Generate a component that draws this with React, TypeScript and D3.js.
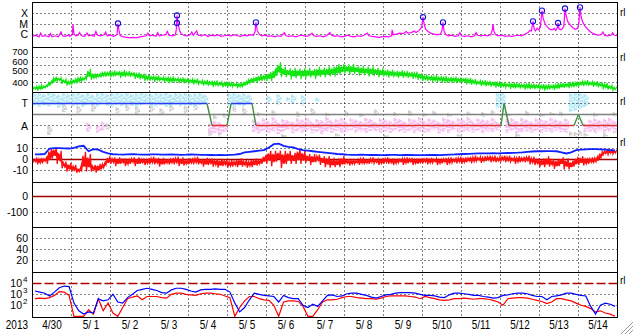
import React from "react";
import * as d3 from "d3";

// ---------- categories / tick labels ----------
const dayLabels = ["4/30", "5/ 1", "5/ 2", "5/ 3", "5/ 4", "5/ 5", "5/ 6", "5/ 7", "5/ 8", "5/ 9", "5/10", "5/11", "5/12", "5/13", "5/14"];
const yearLabel = "2013";
const xrayTicks = [{ t: "X", e: -4 }, { t: "M", e: -5 }, { t: "C", e: -6 }];
const speedTicks = [400, 500, 600, 700];
const sectorTicks = [{ t: "T", v: 270 }, { t: "A", v: 90 }];
const imfTicks = [10, 0, -10];
const dstTicks = [0, -100];
const p6Ticks = [20, 40, 60];
const fluxTicks = [4, 3, 2];

// ---------- X-ray flux: [hour since 4/30 00UT, log10 W/m2] ----------
const xrayPts: [number, number][] = [
  [0, -6.15], [2, -6.05], [4, -6.2], [5, -5.85], [6, -6.15], [8, -6.1], [10, -6.2], [11, -5.9], [12, -6.2], [14, -6.1],
  [16, -6.2], [17.5, -5.75], [18.5, -6.1], [20, -6.15], [22, -6.05], [23, -6.15], [24.5, -6.0], [24.9, -5.05], [25.5, -5.9],
  [26.5, -6.1], [28, -6.05], [29, -5.8], [30, -6.1], [32, -6.15], [33.5, -5.85], [34.5, -6.1], [36, -6.05], [38, -6.15],
  [39, -5.7], [40, -6.05], [42, -6.1], [44, -6.0], [45, -5.75], [46, -6.1], [48, -6.05], [50, -6.15], [52, -6.0],
  [52.6, -4.95], [53.3, -5.7], [54, -6.1], [56, -6.2], [58, -6.25], [60, -6.3], [62, -6.25], [64, -6.3], [66, -6.2],
  [68, -6.15], [70, -6.1], [71, -5.85], [72, -6.1], [74, -6.05], [76, -6.15], [77, -5.8], [78, -6.1], [80, -6.05],
  [82, -6.0], [83, -5.7], [84, -6.05], [86, -6.1], [88, -6.0], [88.5, -5.5], [88.9, -4.2], [89.6, -5.0], [90.5, -5.6],
  [91.5, -5.9], [93, -6.05], [95, -6.1], [97, -6.0], [98, -5.75], [99, -6.05], [101, -5.65], [102, -6.05], [104, -6.1],
  [106, -6.0], [108, -6.15], [110, -6.05], [112, -6.1], [114, -6.0], [116, -6.15], [118, -6.1], [120, -6.05], [122, -6.1],
  [124, -6.0], [126, -6.1], [128, -6.15], [130, -6.05], [132, -6.1], [134, -6.0], [136, -6.05], [137, -5.7], [137.5, -4.85],
  [138.3, -5.6], [139.5, -5.95], [141, -6.1], [143, -6.05], [145, -6.15], [147, -6.1], [149, -6.2], [151, -6.1], [153, -6.15],
  [155, -5.8], [156, -6.1], [158, -6.15], [160, -6.1], [162, -6.2], [164, -6.1], [166, -6.05], [168, -6.15], [170, -6.1],
  [172, -5.85], [173, -6.1], [175, -6.15], [177, -6.1], [179, -6.2], [181, -6.1], [183, -5.8], [184, -6.05], [186, -6.15],
  [188, -6.1], [190, -6.2], [192, -6.15], [194, -6.05], [196, -6.15], [198, -6.2], [200, -6.1], [202, -6.15], [204, -6.05],
  [206, -5.85], [207, -6.1], [209, -6.15], [211, -6.2], [213, -6.25], [215, -6.2], [217, -6.15], [219, -6.2], [221, -6.1],
  [221.3, -5.55], [222, -6.0], [224, -5.95], [226, -5.85], [228, -5.9], [230, -5.7], [231, -5.85], [233, -5.8], [235, -5.65],
  [236, -5.8], [238, -5.6], [239.5, -5.3], [240.3, -4.35], [241, -5.0], [242, -5.5], [243.5, -5.7], [245, -5.85], [247, -5.95],
  [249, -6.0], [251, -5.95], [252, -5.6], [252.6, -4.85], [253.3, -5.7], [254.5, -6.0], [256, -6.1], [258, -6.05], [260, -6.15],
  [262, -6.1], [263, -5.8], [264, -6.1], [266, -6.15], [268, -6.1], [270, -6.2], [272, -6.1], [273, -5.8], [274, -6.05],
  [276, -6.1], [278, -6.05], [280, -6.1], [282, -6.0], [283, -5.5], [283.4, -5.0], [284, -5.7], [285, -6.0], [287, -6.1],
  [289, -6.05], [291, -6.15], [293, -6.1], [295, -6.15], [297, -6.1], [299, -6.05], [301, -6.1], [303, -5.95], [305, -5.8],
  [306, -5.6], [307, -5.65], [308, -4.75], [308.8, -5.5], [309.5, -5.65], [310.5, -5.4], [311.5, -5.55], [312.5, -5.3],
  [313.5, -3.75], [314.3, -4.5], [315.5, -5.0], [317, -5.3], [318.5, -5.5], [320, -5.55], [321, -5.4], [322, -5.6], [323, -5.35],
  [323.4, -4.9], [324, -5.45], [325, -5.55], [326, -5.45], [327, -5.2], [327.7, -3.55], [328.5, -4.3], [329.5, -4.8], [331, -5.1],
  [332.5, -5.35], [334, -5.5], [335.5, -5.4], [336.3, -4.8], [336.9, -3.45], [337.6, -4.3], [338.5, -4.8], [340, -5.2],
  [341.5, -5.45], [343, -5.7], [344.5, -5.85], [346, -5.95], [348, -6.05], [350, -6.0], [351, -5.75], [352, -6.05], [354, -6.1],
  [356, -6.05], [357, -5.8], [358, -6.05], [360, -6.1],
];
const flareHours = [52.6, 88.9, 88.9, 137.5, 240.3, 252.6, 308.0, 313.5, 323.4, 327.7, 336.9];
const flareLogs = [-4.95, -4.2, -4.9, -4.85, -4.35, -4.85, -4.75, -3.75, -4.9, -3.55, -3.45];

// ---------- Solar wind speed (km/s), 3-hour bins: level and scatter ----------
const speedMid = [
  330, 335, 345, 380, 430, 435, 410, 395,
  410, 430, 440, 500, 470, 480, 495, 500,
  500, 505, 500, 500, 495, 480, 470, 455,
  450, 445, 440, 435, 430, 430, 425, 420,
  415, 410, 400, 395, 390, 385, 380, 375,
  375, 370, 365, 380, 410, 430, 445, 455,
  470, 490, 560, 525, 515, 505, 510, 505,
  510, 510, 515, 520, 525, 530, 545, 555,
  560, 555, 550, 540, 535, 530, 525, 515,
  510, 505, 500, 500, 495, 490, 485, 470,
  455, 450, 445, 440, 435, 430, 430, 425,
  425, 415, 405, 395, 390, 385, 380, 375,
  370, 365, 360, 360, 355, 355, 350, 350,
  345, 340, 345, 350, 360, 365, 370, 375,
  385, 390, 385, 380, 370, 355, 340, 325,
];
const speedSpread = [
  25, 35, 21, 31, 39, 22, 28, 34,
  31, 42, 25, 63, 39, 28, 36, 34,
  42, 31, 49, 36, 28, 39, 34, 42,
  31, 39, 28, 35, 42, 25, 34, 31,
  28, 36, 25, 34, 31, 39, 28, 35,
  34, 25, 36, 31, 42, 35, 49, 39,
  56, 77, 84, 63, 53, 70, 59, 67,
  63, 53, 73, 56, 67, 59, 77, 63,
  56, 67, 49, 59, 53, 63, 50, 56,
  42, 49, 39, 48, 42, 36, 45, 39,
  39, 34, 45, 36, 42, 35, 39, 34,
  31, 39, 35, 28, 36, 34, 31, 39,
  35, 28, 39, 34, 31, 42, 35, 31,
  34, 39, 31, 42, 35, 31, 39, 36,
  31, 36, 28, 34, 31, 39, 28, 25,
];

// ---------- IMF sector (phi, deg) ----------
const sectorLine: [number, number][] = [
  [0, 270], [107.4, 270], [110.5, 90], [119.7, 90], [122.2, 270], [135.1, 270], [137.5, 90],
  [288.3, 90], [290.2, 270], [293.2, 90], [333.2, 90], [336.0, 180], [338.8, 90], [360, 90],
];
// [bin, phiLo, phiHi]
const towardStreaks: [number, number, number][] = [
  [0, 250, 350], [1, 240, 355], [2, 255, 345], [3, 245, 358], [4, 260, 350], [5, 235, 340], [6, 250, 355], [7, 265, 345],
  [8, 245, 350], [9, 255, 358], [10, 240, 345], [11, 260, 355], [12, 250, 340], [13, 245, 350], [14, 265, 355], [15, 250, 345],
  [16, 240, 352], [17, 255, 358], [18, 245, 348], [19, 260, 355], [20, 250, 345], [21, 240, 350], [22, 255, 358], [23, 265, 350],
  [24, 250, 345], [25, 245, 355], [26, 255, 350], [27, 240, 358], [28, 250, 345], [29, 260, 352], [30, 245, 350], [31, 255, 355],
  [32, 250, 345], [33, 240, 350], [34, 255, 355], [35, 260, 340],
  [40, 250, 350], [41, 240, 355], [42, 255, 345], [43, 245, 350], [44, 260, 340],
  [48, 275, 330], [50, 260, 345], [52, 285, 320], [53, 265, 340], [55, 250, 335], [58, 280, 315],
  [95, 230, 355], [96, 215, 358], [110, 200, 350], [111, 210, 358], [112, 225, 355], [113, 240, 345],
];
const awayStreaks: [number, number, number][] = [
  [11, 45, 115], [13, 35, 95], [14, 55, 125],
  [36, 25, 110], [37, 35, 130], [38, 20, 120], [39, 40, 105],
  [45, 40, 140], [46, 30, 125], [47, 50, 150], [48, 35, 130], [49, 45, 160], [50, 25, 120], [51, 40, 145], [52, 55, 135],
  [53, 30, 125], [54, 45, 150], [55, 35, 140], [56, 50, 155], [57, 30, 120], [58, 40, 145], [59, 25, 135], [60, 45, 160],
  [61, 35, 130], [62, 50, 145], [63, 30, 155], [64, 40, 125], [65, 55, 150], [66, 35, 140], [67, 45, 130], [68, 30, 155],
  [69, 50, 145], [70, 40, 120], [71, 35, 150], [72, 45, 140], [73, 30, 130], [74, 55, 155], [75, 40, 145], [76, 35, 125],
  [77, 50, 150], [78, 30, 140], [79, 45, 160], [80, 35, 130], [81, 40, 150], [82, 55, 140], [83, 30, 125], [84, 45, 155],
  [85, 35, 145], [86, 50, 130], [87, 30, 150], [88, 40, 140], [89, 45, 160], [90, 35, 125], [91, 50, 150], [92, 30, 140],
  [93, 45, 135], [94, 40, 155], [95, 55, 120], [97, 35, 145], [98, 50, 150], [99, 30, 130], [100, 40, 155], [101, 45, 140],
  [102, 35, 125], [103, 50, 150], [104, 30, 145], [105, 45, 135], [106, 35, 155], [107, 50, 140], [108, 40, 130], [109, 35, 150],
  [113, 40, 110], [114, 45, 140], [115, 30, 150], [116, 50, 135], [117, 35, 145], [118, 45, 155], [119, 30, 130],
];
const grayStreaks: [number, number, number][] = [
  [3, 15, 90], [6, 200, 265], [9, 190, 250], [12, 205, 270], [15, 60, 110], [17, 195, 240], [19, 210, 260], [21, 185, 245],
  [24, 200, 255], [26, 175, 230], [28, 205, 260], [31, 190, 250], [33, 215, 265],
  [36, 10, 60], [37, 140, 175], [38, 5, 45], [39, 150, 190], [41, 200, 240], [43, 185, 235],
  [46, 165, 200], [49, 170, 215], [51, 0, 25], [54, 160, 205], [57, 175, 230], [60, 165, 195], [62, 5, 30], [64, 170, 210],
  [67, 160, 190], [70, 175, 220], [72, 0, 20], [74, 165, 200], [77, 170, 215], [80, 160, 195], [82, 175, 210], [85, 165, 190],
  [87, 5, 25], [89, 170, 205], [92, 160, 200], [94, 175, 215], [97, 165, 195], [99, 0, 30], [101, 170, 210], [104, 160, 190],
  [106, 175, 200], [108, 165, 205], [110, 5, 45], [111, 0, 40], [112, 10, 50], [113, 5, 35], [115, 160, 195], [117, 0, 30],
  [119, 165, 200],
];

// ---------- IMF Bt / Bz (nT), 3-hour bins ----------
const btVals = [
  4.7, 4.8, 5.0, 10.0, 10.3, 10.4, 10.2, 10.0,
  10.5, 12.0, 12.5, 7.5, 9.5, 9.0, 7.0, 5.5,
  4.8, 4.6, 4.5, 4.7, 4.9, 4.6, 4.5, 4.4,
  4.6, 4.7, 4.5, 4.4, 4.6, 4.5, 4.3, 4.4,
  4.6, 4.5, 4.3, 4.2, 4.1, 4.0, 4.2, 4.0,
  4.3, 4.5, 5.0, 6.5, 7.0, 7.5, 8.0, 8.5,
  11.0, 14.0, 14.5, 12.5, 11.5, 11.0, 9.5, 8.5,
  8.0, 7.5, 7.0, 6.5, 6.0, 5.5, 5.0, 4.8,
  4.5, 4.3, 4.2, 4.4, 4.3, 4.1, 4.2, 4.0,
  4.1, 4.3, 4.2, 4.0, 4.1, 4.2, 4.0, 3.9,
  4.0, 4.1, 4.2, 4.0, 4.3, 4.5, 4.6, 4.8,
  5.0, 5.2, 5.4, 5.5, 5.5, 5.6, 5.7, 5.6,
  5.8, 5.9, 6.0, 6.2, 6.5, 7.0, 7.3, 7.5,
  7.5, 7.7, 7.7, 7.5, 6.5, 5.5, 6.5, 8.5,
  9.0, 9.3, 9.5, 9.5, 9.3, 9.0, 8.5, 8.0,
];
const bzMid = [
  -1, -1.5, -0.5, 3, 6, 2, -5, -7,
  -8, -10, -2, -3, -8, -8, -6, -1,
  -1, -2, -1.5, -2.5, -1, -2, -1.5, -2,
  -1, -1.5, -2.5, -2, -1.5, -1, -2, -2.5,
  -1.5, -1, -2, -2.5, -2, -3, -3.5, -3,
  -4, -3.5, -3, -3.5, -4, -3, -2.5, 0,
  2, 1, 3, 0, 2, 1, 3, 2,
  1, 0, 1, -1, -2, -3, -3, -2,
  -2, -2.5, -2, -1.5, -2, -1, -1.5, -2,
  -1, -1.5, -2, -1, -1.5, -1, -2, -1.5,
  -1, -1.5, -1, -2, -1, -1.5, -1, -0.5,
  -1, 0, 0, 0.5, 0, 1, 0.5, 0,
  1, 0.5, 0, -0.5, 0, 0.5, -1, -2,
  -3, -2, -3, -4, -2, -4, -5, -2,
  -1, -2, -1, -0.5, 3, 6.5, 7, 7,
];
const bzSpread = [
  2, 3, 2, 7, 5, 6, 3, 4,
  3, 2, 9, 8, 3, 4, 3, 4,
  3, 4, 2.5, 3.5, 3, 4, 2.5, 3,
  3.5, 3, 4, 2.5, 3, 3.5, 4, 3,
  3, 3.5, 2.5, 4, 3, 3.5, 4, 3,
  3.5, 3, 4, 3, 3.5, 4, 3, 4,
  6, 7, 5, 8, 6, 5, 7, 6,
  4, 5, 3.5, 4, 5, 4.5, 4, 5,
  2.5, 3, 2, 3.5, 2.5, 3, 2, 3,
  3, 2.5, 3, 2, 3.5, 2.5, 3, 2.5,
  2.5, 3, 2, 3, 2.5, 3.5, 2, 3,
  3, 2.5, 3.5, 2, 3, 2.5, 3, 2.5,
  2.5, 3, 2, 3.5, 2.5, 3, 3.5, 3,
  4, 5, 3.5, 4.5, 4, 5, 4, 4.5,
  4, 3.5, 3, 3, 4, 2, 2.5, 2,
];

// ---------- Particle flux (log10), 3-hour bins ----------
const fluxBlue = [
  3.3, 3.2, 3.1, 2.85, 3.2, 3.6, 3.75, 3.7,
  2.2, 1.5, 1.2, 1.4, 1.3, 2.6, 2.4, 2.5,
  3.0, 2.3, 2.2, 2.7, 3.0, 3.35, 3.45, 3.55,
  3.45, 3.35, 3.15, 3.1, 3.4, 3.55, 3.55, 3.45,
  3.3, 3.2, 3.4, 3.45, 3.45, 3.5, 3.45, 3.45,
  3.2, 2.2, 1.4, 1.8, 2.5, 3.1, 3.0, 2.9,
  2.85, 2.8, 2.3, 2.9, 2.7, 2.6, 2.6, 2.0,
  1.8, 2.1, 1.9, 2.4, 2.9, 2.95, 2.8, 2.85,
  3.05, 3.1, 3.1, 3.0, 2.9, 2.75, 2.65, 2.8,
  2.95, 3.0, 3.1, 3.15, 3.15, 3.15, 3.1, 3.0,
  2.9, 2.9, 2.85, 2.75, 2.7, 2.95, 3.1, 3.1,
  3.05, 3.0, 2.9, 2.9, 2.8, 2.75, 2.65, 2.7,
  2.9, 2.95, 3.05, 3.1, 3.1, 3.05, 2.9, 2.8,
  2.8, 2.5, 2.8, 2.85, 2.95, 3.1, 3.1, 3.0,
  2.9, 2.85, 1.9, 1.2, 2.0, 2.2, 2.1, 1.9,
];
const fluxRed = [
  2.6, 2.65, 2.6, 2.7, 2.9, 3.25, 3.2, 2.9,
  0.5, 0.5, 0.5, 1.6, 1.2, 2.6, 1.5, 2.2,
  1.3, 0.5, 1.8, 2.6, 2.75, 2.85, 2.5, 2.8,
  2.8, 2.8, 2.7, 2.65, 3.0, 3.1, 3.1, 3.0,
  2.95, 2.9, 3.05, 3.1, 3.1, 3.05, 3.0, 2.85,
  2.7, 0.5, 1.8, 2.4, 2.8, 2.8, 2.6, 2.5,
  2.45, 2.0, 0.8, 2.3, 2.4, 2.4, 2.35, 1.9,
  0.5, 0.9, 1.6, 2.3, 2.5, 2.5, 2.55, 2.7,
  2.8, 2.8, 2.7, 2.65, 2.6, 2.6, 2.55, 2.65,
  2.8, 2.85, 2.85, 2.85, 2.85, 2.8, 2.75, 2.6,
  2.8, 2.7, 2.6, 2.5, 2.45, 2.5, 2.6, 2.6,
  2.65, 2.6, 2.55, 2.6, 2.6, 2.55, 2.45, 2.3,
  2.0, 2.6, 2.65, 2.7, 2.7, 2.65, 2.55, 2.45,
  2.35, 2.15, 2.3, 2.6, 2.6, 2.5, 2.4, 2.2,
  2.0, 1.9, 1.7, 1.4, 1.5, 1.3, 1.2, 0.9,
];
const fluxThreshold = 4;

// ---------- layout ----------
const W = 633;
const H = 334;
const L = 32.5;
const R = 617.5;
const BIN = 3;
const tops = [2.5, 47.5, 92.5, 137.5, 182.5, 227.5, 272.5];
const bottom = 317.5;
const glyphY = [12, 57, 101, 142, null, null, 280];
const speedLabelShift = [0, -3, -4.3, -5.8];
const FONT = "'Liberation Sans', Arial, sans-serif";

const x = d3.scaleLinear().domain([0, 360]).range([L, R]);
const y1 = d3.scaleLog().domain([1e-7, 1e-3]).range([45.4, 2.6]);
const y2 = d3.scaleLinear().domain([284, 824]).range([92, 47]);
const y3 = d3.scaleLinear().domain([0, 360]).range([137, 92]);
const y4 = d3.scaleLinear().domain([-20.5, 20.5]).range([182, 137]);
const y5 = d3.scaleLinear().domain([-194, 94]).range([227, 182]);
const y6 = d3.scaleLinear().domain([0, 80]).range([271.3, 227.3]);
const y7 = d3.scaleLog().domain([10, 1e5]).range([316.3, 272.3]).clamp(true);

const snap = (v: number) => Math.floor(v) + 0.5;

// scatter drawn as alternating low/high excursions of each bin
function zigzag(mid: number[], spread: number[]): [number, number][] {
  const pts: [number, number][] = [];
  mid.forEach((m, i) => {
    const s = spread[i];
    pts.push([i * BIN + 0.2, m - s]);
    pts.push([i * BIN + 1.0, m + s * 0.6]);
    pts.push([i * BIN + 1.8, m - s * 0.5]);
    pts.push([i * BIN + 2.6, m + s]);
  });
  return pts;
}
type Band = { t: number; lo: number; hi: number };
function band(mid: number[], spread: number[], k: number): Band[] {
  return mid.map((m, i) => ({ t: i * BIN + BIN / 2, lo: m - spread[i] * k, hi: m + spread[i] * k }));
}

export default function App() {
  const line = (ys: (v: number) => number) =>
    d3.line<[number, number]>().x((d) => x(d[0])).y((d) => ys(d[1]));
  const area = (ys: (v: number) => number) =>
    d3.area<Band>().x((d) => x(d.t)).y0((d) => ys(d.lo)).y1((d) => ys(d.hi)).curve(d3.curveMonotoneX);

  const xrayPath = line((v) => y1(Math.pow(10, v)))(xrayPts) || "";
  const speedPath = line(y2)(zigzag(speedMid, speedSpread)) || "";
  const speedArea = area(y2)(band(speedMid, speedSpread, 0.45)) || "";
  const btPath = line(y4)(btVals.map((v, i) => [i * BIN + BIN / 2, v] as [number, number])) || "";
  const bzPath = line(y4)(zigzag(bzMid, bzSpread)) || "";
  const bzArea = area(y4)(band(bzMid, bzSpread, 0.45)) || "";
  const fluxLine = (arr: number[]) =>
    line((v) => y7(Math.pow(10, v)))(arr.map((v, i) => [i * BIN + BIN / 2, v] as [number, number])) || "";

  const dayTicks = d3.range(0, 361, 24);
  const dotted = { stroke: "#000", strokeWidth: 1, strokeDasharray: "1,3" };

  const sectorSegs = sectorLine.slice(1).map((p, i) => {
    const a = sectorLine[i];
    const col = a[1] === 270 && p[1] === 270 ? "#2a3cf0" : a[1] === 90 && p[1] === 90 ? "#e23030" : "#3f8f3f";
    return { a, b: p, col };
  });

  const streaks = (arr: [number, number, number][], color: string, key: string) =>
    arr.map(([b, lo, hi], i) => {
      const cx = x(b * BIN + BIN / 2);
      return (
        <g key={key + i}>
          <line x1={cx - 1.4} x2={cx - 1.4} y1={y3(hi)} y2={y3(lo)} stroke={color} strokeWidth={1.8} strokeDasharray="4,1" />
          <line x1={cx + 0.4} x2={cx + 0.4} y1={y3(hi) + 1} y2={y3(lo)} stroke={color} strokeWidth={1.8} strokeDasharray="2,1" />
          <line x1={cx + 2.0} x2={cx + 2.0} y1={y3(hi) + 3} y2={y3(lo) - 2} stroke={color} strokeWidth={1.4} strokeDasharray="3,1.5" />
        </g>
      );
    });

  const leftLabel = (txt: string, yy: number, key: string, fs = 10.5) => (
    <text key={key} x={28} y={yy} dy="0.36em" textAnchor="end" fontSize={fs} fontFamily={FONT} fill="#000">
      {txt}
    </text>
  );

  return (
    <div style={{ position: "fixed", left: 0, top: 0, width: W, height: H, background: "#fff" }}>
      <svg width={W} height={H} viewBox={`0 0 ${W} ${H}`} style={{ display: "block" }}>
        <defs>
          {tops.map((t, i) => (
            <clipPath id={`clip${i}`} key={i}>
              <rect x={L} y={t} width={R - L} height={(i < 6 ? tops[i + 1] : bottom) - t} />
            </clipPath>
          ))}
        </defs>
        <rect x={0} y={0} width={W} height={H} fill="#fff" />

        {/* vertical day gridlines */}
        {dayTicks.slice(1, -1).map((h) => (
          <line key={"v" + h} x1={x(h)} x2={x(h)} y1={tops[0]} y2={bottom} {...dotted} />
        ))}

        {/* panel 1: X-ray */}
        {xrayTicks.map((d) => (
          <line key={"g1" + d.t} x1={L} x2={R} y1={snap(y1(Math.pow(10, d.e)))} y2={snap(y1(Math.pow(10, d.e)))} {...dotted} />
        ))}
        <g clipPath="url(#clip0)">
          <path d={xrayPath} fill="none" stroke="#ff00ff" strokeWidth={1.2} />
          {flareHours.map((h, i) => (
            <circle key={"f" + i} cx={x(h)} cy={y1(Math.pow(10, flareLogs[i]))} r={2.6} fill="none" stroke="#1010e0" strokeWidth={1.1} />
          ))}
        </g>
        {xrayTicks.map((d) => leftLabel(d.t, y1(Math.pow(10, d.e)), "l1" + d.t))}

        {/* panel 2: speed */}
        {speedTicks.map((v) => (
          <line key={"g2" + v} x1={L} x2={R} y1={snap(y2(v))} y2={snap(y2(v))} {...dotted} />
        ))}
        <g clipPath="url(#clip1)">
          <path d={speedArea} fill="#14e614" stroke="none" />
          <path d={speedPath} fill="none" stroke="#14e614" strokeWidth={1.1} />
        </g>
        {speedTicks.map((v, i) => leftLabel(String(v), y2(v) + speedLabelShift[i], "l2" + v, 9.5))}

        {/* panel 3: sector */}
        <g clipPath="url(#clip2)">
          {streaks(grayStreaks, "#cdcdcd", "gs")}
          {streaks(towardStreaks, "#aee6f6", "ts")}
          {streaks(awayStreaks, "#f6bdf0", "as")}
        </g>
        {sectorTicks.map((d) => (
          <line key={"g3" + d.t} x1={L} x2={R} y1={snap(y3(d.v))} y2={snap(y3(d.v))} {...dotted} />
        ))}
        <line x1={L} x2={R} y1={snap(y3(180))} y2={snap(y3(180))} stroke="#808080" strokeWidth={1.5} />
        <g clipPath="url(#clip2)">
          {sectorSegs.map((s, i) => (
            <line key={"ss" + i} x1={x(s.a[0])} x2={x(s.b[0])} y1={snap(y3(s.a[1]))} y2={snap(y3(s.b[1]))} stroke={s.col} strokeWidth={1.4} />
          ))}
        </g>
        {sectorTicks.map((d) => leftLabel(d.t, y3(d.v), "l3" + d.t))}

        {/* panel 4: IMF */}
        {imfTicks.filter((v) => v !== 0).map((v) => (
          <line key={"g4" + v} x1={L} x2={R} y1={snap(y4(v))} y2={snap(y4(v))} {...dotted} />
        ))}
        <line x1={L} x2={R} y1={snap(y4(0))} y2={snap(y4(0))} stroke="#a00000" strokeWidth={1.3} />
        <g clipPath="url(#clip3)">
          <path d={bzArea} fill="#ff1010" stroke="none" />
          <path d={bzPath} fill="none" stroke="#ff1010" strokeWidth={1.3} />
          <path d={btPath} fill="none" stroke="#1020ff" strokeWidth={1.8} />
        </g>
        {imfTicks.map((v) => leftLabel(String(v), y4(v), "l4" + v))}

        {/* panel 5 */}
        <line x1={L} x2={R} y1={snap(y5(-100))} y2={snap(y5(-100))} {...dotted} />
        <line x1={L} x2={R} y1={snap(y5(0))} y2={snap(y5(0))} stroke="#a00000" strokeWidth={1.3} />
        {dstTicks.map((v) => leftLabel(String(v), y5(v), "l5" + v))}

        {/* panel 6 */}
        {p6Ticks.map((v) => (
          <line key={"g6" + v} x1={L} x2={R} y1={snap(y6(v))} y2={snap(y6(v))} {...dotted} />
        ))}
        {p6Ticks.map((v) => leftLabel(String(v), y6(v), "l6" + v))}

        {/* panel 7: particle flux */}
        {fluxTicks.filter((e) => e !== fluxThreshold).map((e) => (
          <line key={"g7" + e} x1={L} x2={R} y1={snap(y7(Math.pow(10, e)))} y2={snap(y7(Math.pow(10, e)))} {...dotted} />
        ))}
        <line x1={L} x2={R} y1={snap(y7(Math.pow(10, fluxThreshold)))} y2={snap(y7(Math.pow(10, fluxThreshold)))}
          stroke="#b00000" strokeWidth={1.3} strokeDasharray="9,3" />
        <g clipPath="url(#clip6)">
          <path d={fluxLine(fluxRed)} fill="none" stroke="#ff0000" strokeWidth={1.2} />
          <path d={fluxLine(fluxBlue)} fill="none" stroke="#0000ff" strokeWidth={1.2} />
        </g>
        {fluxTicks.map((e) => (
          <text key={"l7" + e} fontFamily={FONT} fill="#000" textAnchor="end">
            <tspan x={22} y={y7(Math.pow(10, e))} dy="0.36em" fontSize={10.5}>10</tspan>
            <tspan x={27.5} y={y7(Math.pow(10, e)) - 4} dy="0.36em" fontSize={8}>{e}</tspan>
          </text>
        ))}

        {/* frame */}
        <rect x={L} y={tops[0]} width={R - L} height={bottom - tops[0]} fill="none" stroke="#000" strokeWidth={1} />
        {tops.slice(1).map((t) => (
          <line key={"d" + t} x1={L} x2={R} y1={t} y2={t} stroke="#000" strokeWidth={1} />
        ))}

        {/* right-side glyphs */}
        {glyphY.map((gy, i) =>
          gy == null ? null : (
            <text key={"rg" + i} x={620} y={gy} dy="0.36em" fontSize={10} fontFamily={FONT} fill="#000">rl</text>
          )
        )}

        {/* time axis labels */}
        <text transform={`translate(28,329) scale(0.8,1)`} textAnchor="end" fontSize={12.5} fontFamily={FONT} fill="#000">
          {yearLabel}
        </text>
        {dayLabels.map((lab, i) => (
          <text key={"dl" + i} transform={`translate(${x(dayTicks[i] + 12)},329) scale(0.8,1)`} textAnchor="middle"
            fontSize={12.5} fontFamily={FONT} fill="#000">
            {lab}
          </text>
        ))}

        {/* window resize grip */}
        {[4, 8, 12].map((k) => (
          <line key={"grip" + k} x1={W - k} y1={H} x2={W} y2={H - k} stroke="#9a9a9a" strokeWidth={1} />
        ))}
      </svg>
    </div>
  );
}
